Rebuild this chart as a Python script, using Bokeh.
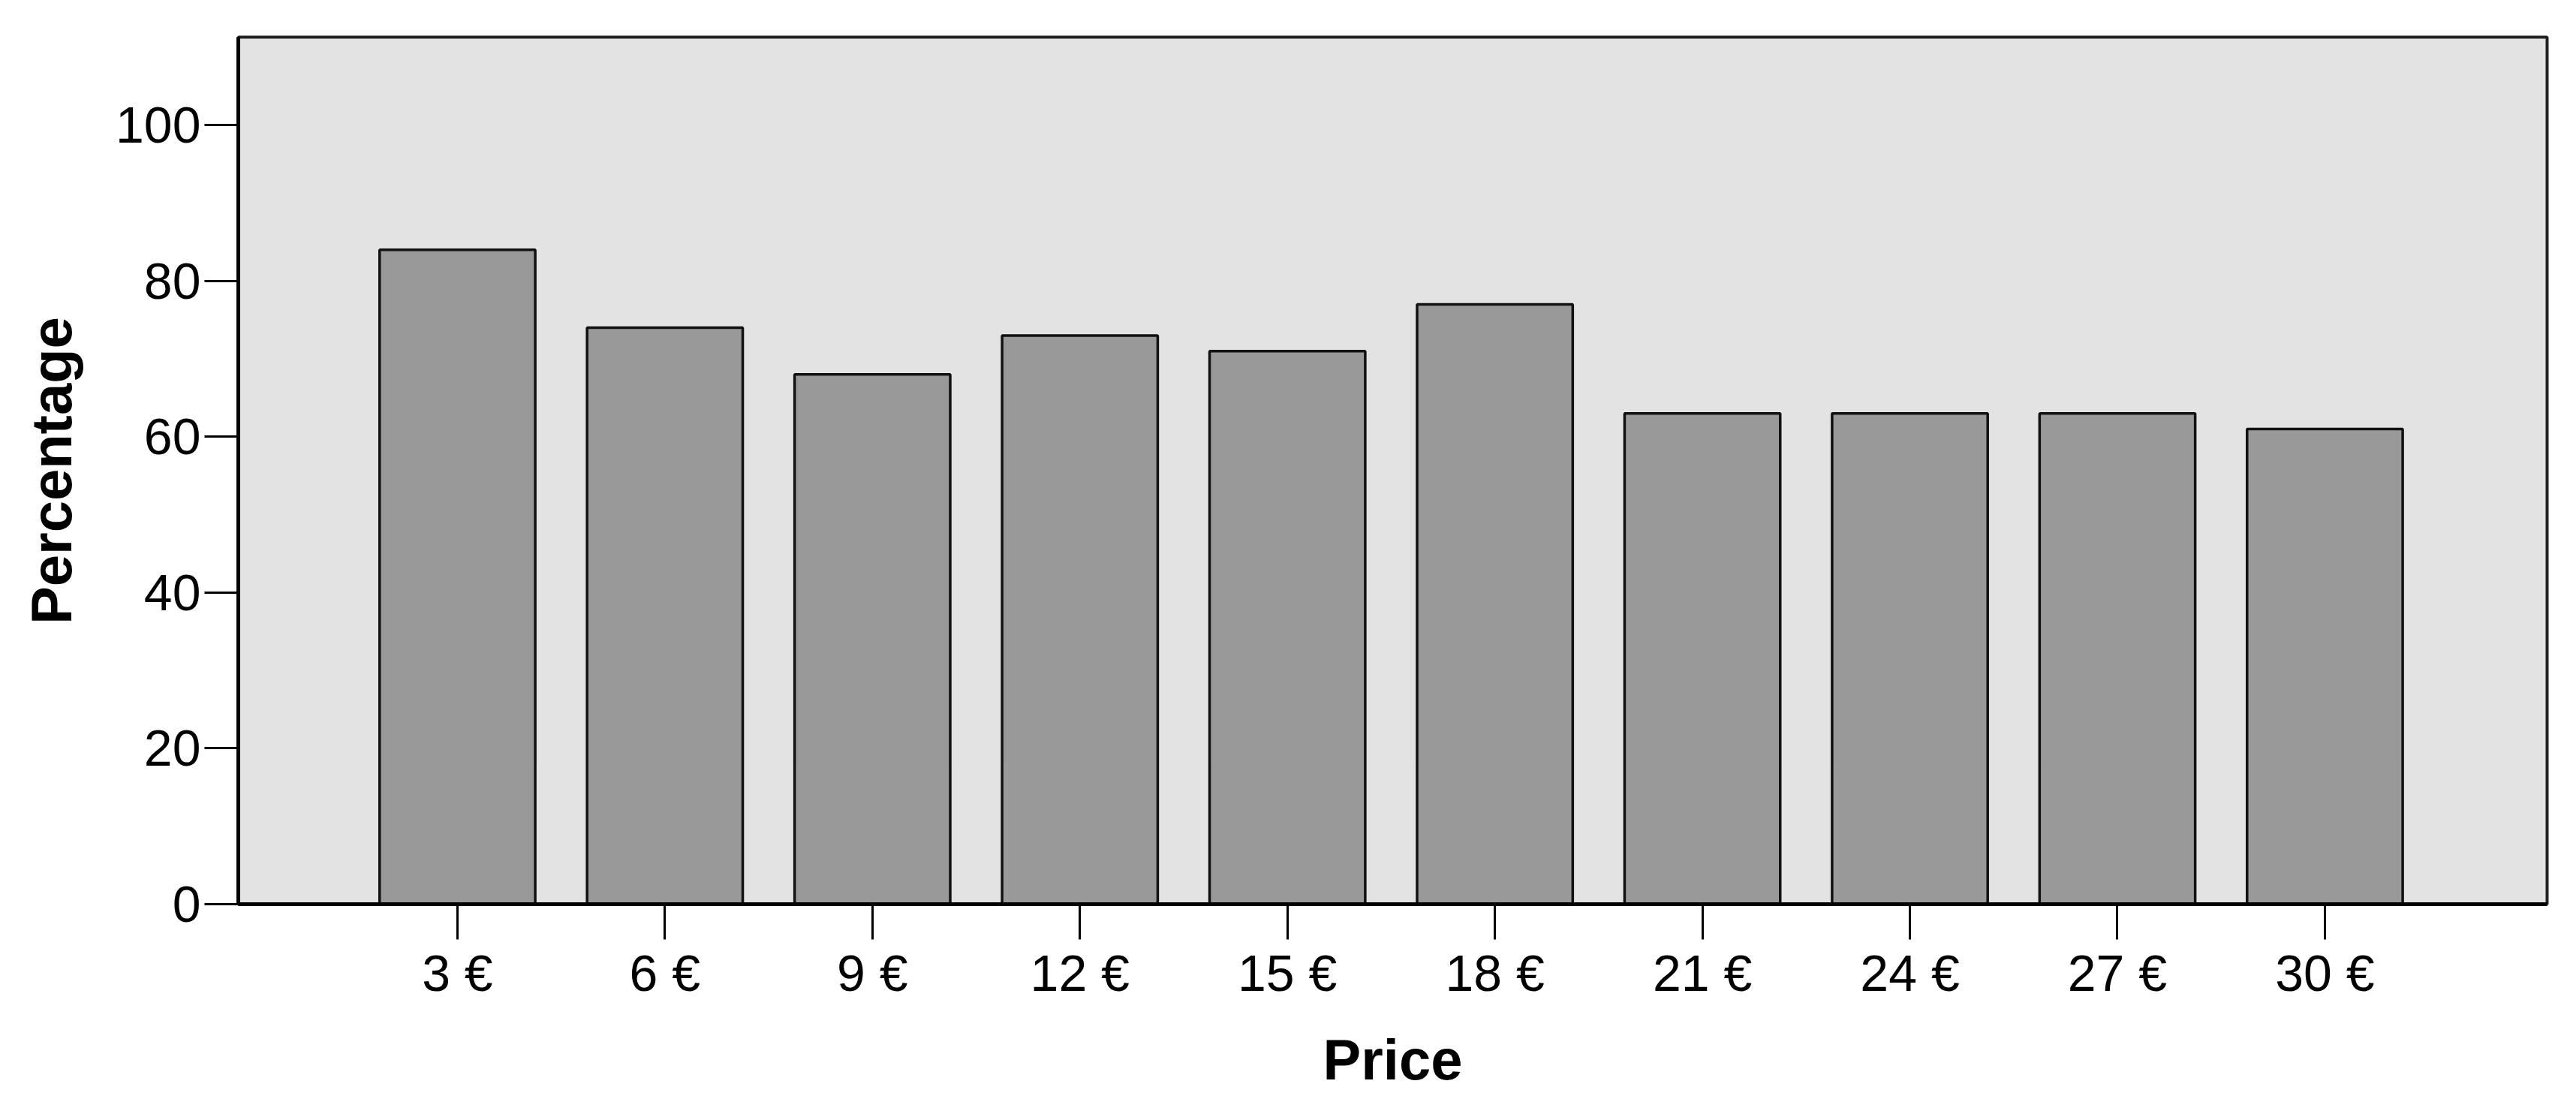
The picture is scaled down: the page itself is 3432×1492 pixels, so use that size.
from bokeh.plotting import figure
from bokeh.models import Range1d, FixedTicker, ColumnDataSource
from bokeh.embed import file_html
from bokeh.resources import INLINE

categories = ["3 €", "6 €", "9 €", "12 €", "15 €", "18 €", "21 €", "24 €", "27 €", "30 €"]
percentages = [84, 74, 68, 73, 71, 77, 63, 63, 63, 61]
y_ticks = [0, 20, 40, 60, 80, 100]

positions = list(range(1, len(categories) + 1))
source = ColumnDataSource(dict(x=positions, top=percentages, cat=categories))

FONT = "Liberation Sans"

p = figure(width=3416, height=1476, output_backend="svg", toolbar_location=None,
           x_range=Range1d(-0.056, 11.071), y_range=Range1d(0, 111.3),
           min_border_left=317, min_border_top=49, min_border_right=23, min_border_bottom=272)

p.background_fill_color = "#E3E3E3"
p.border_fill_color = "white"
p.outline_line_color = "#222222"
p.outline_line_width = 4
p.xgrid.visible = False
p.ygrid.visible = False

p.vbar(x="x", top="top", width=0.75, bottom=0, source=source,
       fill_color="#999999", line_color="#111111", line_width=3.5)

p.xaxis.ticker = FixedTicker(ticks=positions)
p.xaxis.major_label_overrides = {pos: c for pos, c in zip(positions, categories)}
p.yaxis.ticker = FixedTicker(ticks=y_ticks)

for ax in (p.xaxis[0], p.yaxis[0]):
    ax.axis_line_color = "black"
    ax.axis_line_width = 5
    ax.major_tick_line_color = "black"
    ax.major_tick_line_width = 3
    ax.major_tick_in = 0
    ax.minor_tick_line_color = None
    ax.major_label_text_font = FONT
    ax.major_label_text_font_size = "68px"
    ax.major_label_text_color = "black"
    ax.axis_label_text_font = FONT
    ax.axis_label_text_font_size = "76px"
    ax.axis_label_text_font_style = "bold"
    ax.axis_label_text_color = "black"

p.xaxis.major_tick_out = 47
p.yaxis.major_tick_out = 45
p.xaxis.major_label_standoff = 6
p.yaxis.major_label_standoff = 5
p.xaxis.axis_label = "Price"
p.yaxis.axis_label = "Percentage"
p.xaxis.axis_label_standoff = 32
p.yaxis.axis_label_standoff = 40

open("out.html", "w").write(file_html(p, INLINE))
